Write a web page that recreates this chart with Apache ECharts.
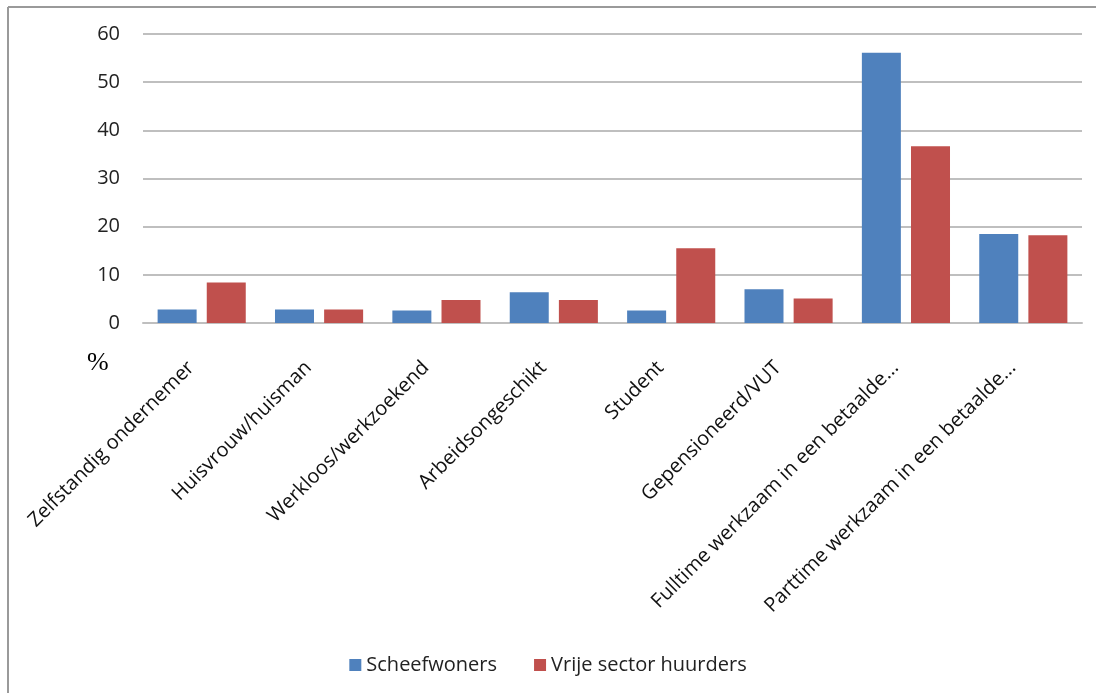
<!DOCTYPE html>
<html>
<head>
<meta charset="utf-8">
<script src="https://cdn.jsdelivr.net/npm/echarts@6/dist/echarts.min.js"></script>
<style>
  html, body { margin: 0; padding: 0; background: #fff; }
  #chart { width: 1096px; height: 693px; }
</style>
</head>
<body>
<div id="chart"></div>
<script>
const categories = [
  'Zelfstandig ondernemer',
  'Huisvrouw/huisman',
  'Werkloos/werkzoekend',
  'Arbeidsongeschikt',
  'Student',
  'Gepensioneerd/VUT',
  'Fulltime werkzaam in een betaalde...',
  'Parttime werkzaam in een betaalde...'
]
const scheefwoners = [2.8, 2.8, 2.6, 6.4, 2.6, 7.0, 56.1, 18.5]
const vrijeSector = [8.4, 2.8, 4.8, 4.8, 15.5, 5.1, 36.7, 18.2]
const seriesNames = ['Scheefwoners', 'Vrije sector huurders']

const font = '"Open Sans", Lato, sans-serif'
const gridColor = '#bfbfbf'

const chart = echarts.init(document.getElementById('chart'))

const option = {
  animation: false,
  textStyle: { fontFamily: font },
  grid: { left: 143, right: 14, top: 34, bottom: 370 },
  legend: {
    data: seriesNames,
    top: 650,
    left: 'center',
    icon: 'rect',
    itemWidth: 12,
    itemHeight: 12,
    itemGap: 37,
    textStyle: { fontSize: 20, color: '#222', fontFamily: font }
  },
  xAxis: {
    type: 'category',
    data: categories,
    axisTick: { show: false },
    axisLine: { show: true, lineStyle: { color: gridColor, width: 2 } },
    axisLabel: {
      interval: 0,
      rotate: 45,
      margin: 31,
      padding: [0, 15, 0, 0],
      fontSize: 20,
      color: '#111',
      fontFamily: font
    }
  },
  yAxis: {
    type: 'value',
    min: 0,
    max: 60,
    interval: 10,
    axisLine: { show: false },
    axisTick: { show: false },
    axisLabel: { fontSize: 20, color: '#222', margin: 23, fontFamily: font },
    splitLine: { lineStyle: { color: gridColor, width: 2 } }
  },
  series: [
    {
      name: seriesNames[0],
      type: 'bar',
      data: scheefwoners,
      barWidth: 39,
      barGap: '26%',
      itemStyle: { color: '#4f81bd' }
    },
    {
      name: seriesNames[1],
      type: 'bar',
      data: vrijeSector,
      barWidth: 39,
      barGap: '26%',
      itemStyle: { color: '#c0504d' }
    }
  ],
  graphic: [
    // frame around the chart area (top and left edge visible)
    { type: 'line', shape: { x1: 8, y1: 7, x2: 1096, y2: 7 }, style: { stroke: '#9a9a9a', lineWidth: 2 } },
    { type: 'line', shape: { x1: 8, y1: 7, x2: 8, y2: 693 }, style: { stroke: '#9a9a9a', lineWidth: 2 } },
    {
      type: 'text',
      left: 87,
      top: 350,
      style: { text: '%', font: '26px "Liberation Serif", serif', fill: '#000' }
    }
  ]
}

chart.setOption(option)
</script>
</body>
</html>
